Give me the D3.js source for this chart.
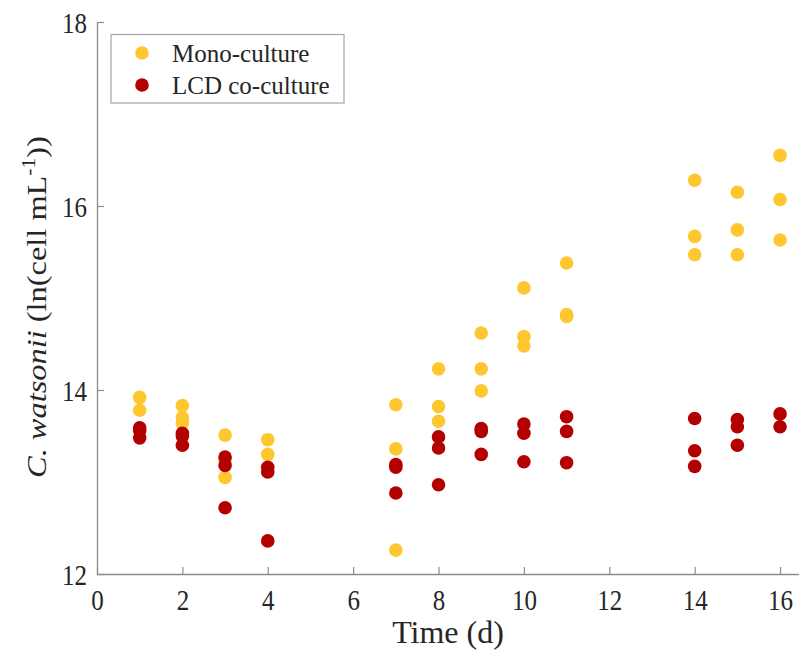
<!DOCTYPE html>
<html>
<head>
<meta charset="utf-8">
<script src="https://cdn.jsdelivr.net/npm/d3@7"></script>
<style>
  html, body { margin: 0; padding: 0; background: #fff; }
  svg { display: block; }
  text { font-family: "Liberation Serif", "Times New Roman", serif; fill: #262626; }
</style>
</head>
<body>
<svg id="chart" width="799" height="655"></svg>
<script>
// ---- data ----
const monoDays = [1,1, 2,2,2, 3,3,3, 4,4, 7,7,7, 8,8,8, 9,9,9, 10,10,10, 11,11,11, 14,14,14, 15,15,15, 16,16,16];
const monoValues = [13.92,13.78, 13.83,13.70,13.64, 13.51,13.22,13.05, 13.46,13.30, 13.84,13.36,12.26,
  14.23,13.82,13.66, 14.62,14.23,13.99, 15.11,14.58,14.48, 15.38,14.82,14.80,
  16.28,15.67,15.47, 16.15,15.74,15.47, 16.55,16.07,15.63];
const lcdDays = [1,1,1, 2,2,2, 3,3,3, 4,4,4, 7,7,7, 8,8,8, 9,9,9, 10,10,10, 11,11,11, 14,14,14, 15,15,15, 16,16];
const lcdValues = [13.59,13.56,13.48, 13.53,13.50,13.40, 13.27,13.18,12.72, 13.16,13.11,12.36, 13.19,13.16,12.88,
  13.49,13.37,12.97, 13.58,13.55,13.30, 13.63,13.53,13.22, 13.71,13.55,13.21,
  13.69,13.34,13.17, 13.68,13.60,13.40, 13.74,13.60];
const xTicks = [0,2,4,6,8,10,12,14,16];
const yTicks = [12,14,16,18];
const seriesNames = ["Mono-culture", "LCD co-culture"];
const seriesColors = ["#FFC72F", "#B30000"];

// ---- layout ----
const svg = d3.select("#chart");
const x = d3.scaleLinear().domain([0, 16.5]).range([97, 801.4]);
const y = d3.scaleLinear().domain([12, 18]).range([574, 22]);
const axisColor = "#8c8c8c";
const serif = '"Liberation Serif", "Times New Roman", serif';

// x axis
const xAxis = svg.append("g").attr("transform", `translate(0,${y(12)})`)
  .call(d3.axisBottom(x).tickValues(xTicks).tickFormat(d3.format("d"))
    .tickSizeInner(-7).tickSizeOuter(0));
xAxis.select(".domain").attr("stroke", axisColor).attr("stroke-width", 1.3);
xAxis.selectAll(".tick line").attr("stroke", axisColor).attr("stroke-width", 1.2);
xAxis.selectAll(".tick text")
  .style("font-family", serif).style("font-size", "25px").style("fill", "#262626")
  .attr("y", 0).attr("dy", 0)
  .attr("transform", "translate(0,36) scale(1,1.15)");

// y axis
const yAxis = svg.append("g").attr("transform", `translate(${x(0)},0)`)
  .call(d3.axisLeft(y).tickValues(yTicks).tickFormat(d3.format("d"))
    .tickSizeInner(-7).tickSizeOuter(0));
yAxis.select(".domain").attr("stroke", axisColor).attr("stroke-width", 1.3);
yAxis.selectAll(".tick line").attr("stroke", axisColor).attr("stroke-width", 1.2);
yAxis.selectAll(".tick text")
  .style("font-family", serif).style("font-size", "25px").style("fill", "#262626")
  .attr("x", -10).attr("dy", 0)
  .attr("transform", "translate(0,10) scale(1,1.15)");

// axis labels
svg.append("text").attr("x", 448).attr("y", 643).attr("text-anchor", "middle")
  .style("font-size", "32px").text("Time (d)");

const yl = svg.append("text").attr("text-anchor", "middle")
  .attr("transform", "translate(46,307) rotate(-90) scale(1.2,1)")
  .style("font-size", "27px");
yl.append("tspan").style("font-style", "italic").text("C. watsonii");
yl.append("tspan").text(" (ln(cell mL");
yl.append("tspan").style("font-size", "18px").attr("dy", -11).text("-1");
yl.append("tspan").attr("dy", 11).text("))");

// points
const mono = monoDays.map((d, i) => ({d, v: monoValues[i]}));
const lcd = lcdDays.map((d, i) => ({d, v: lcdValues[i]}));
const r = 6.8;
svg.append("g").selectAll("circle").data(mono).join("circle")
  .attr("cx", p => x(p.d)).attr("cy", p => y(p.v)).attr("r", r).attr("fill", seriesColors[0]);
svg.append("g").selectAll("circle").data(lcd).join("circle")
  .attr("cx", p => x(p.d)).attr("cy", p => y(p.v)).attr("r", r).attr("fill", seriesColors[1]);

// legend
const lg = svg.append("g");
lg.append("rect").attr("x", 111).attr("y", 34.5).attr("width", 233).attr("height", 68.5)
  .attr("fill", "#fff").attr("stroke", "#a6a6a6").attr("stroke-width", 1.2);
seriesNames.forEach((name, i) => {
  const cy = 53 + i * 32;
  lg.append("circle").attr("cx", 142).attr("cy", cy).attr("r", r).attr("fill", seriesColors[i]);
  lg.append("text").attr("x", 172).attr("y", cy + 8.5).style("font-size", "25px").text(name);
});
</script>
</body>
</html>
